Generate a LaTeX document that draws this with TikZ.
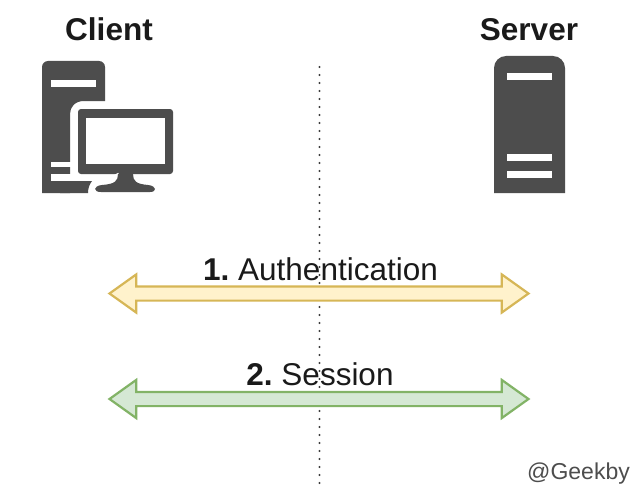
\documentclass[tikz,border=0pt]{standalone}
\usepackage{fontspec}
\setmainfont{Liberation Sans}
\usetikzlibrary{shapes.arrows}
\definecolor{icon}{HTML}{4D4D4D}
\definecolor{ink}{HTML}{1A1A1A}
\definecolor{yfill}{HTML}{FFF2CC}
\definecolor{yline}{HTML}{D6B656}
\definecolor{gfill}{HTML}{D5E8D4}
\definecolor{gline}{HTML}{82B366}
\tikzset{
  lbl/.style={anchor=base,inner sep=0pt,text=ink,font=\fontsize{31.5}{36}\selectfont},
  dblarrow/.style={double arrow,draw=#1,line width=2.2pt,inner sep=0pt,outer sep=0pt,
    minimum height=419pt,minimum width=36pt,text height=12pt,text depth=0pt,text width=0pt,
    double arrow head extend=12pt,double arrow tip angle=71},
  iconfill/.style={fill=icon,draw=none},
  slit/.style={fill=white,draw=none},
  sep/.style={line width=2.2pt,draw=ink!85,line cap=round,dash pattern=on 0pt off 8pt}
}
\begin{document}
\frenchspacing
\begin{tikzpicture}[x=1pt,y=-1pt]
\useasboundingbox[fill=white] (0,0) rectangle (640,495);
% separator
\coordinate (septop) at (319.5,67);
\coordinate (sepbot) at (319.5,490);
\draw[sep] (septop) -- (sepbot);
% client tower
\fill[icon] (42,67) arc[start angle=180,end angle=270,radius=6] -- (99,61)
  arc[start angle=-90,end angle=0,radius=6] -- (105,101) -- (84,101)
  .. controls (75,101) and (70,107) .. (70,114) -- (70,193) -- (42,193) -- cycle;
\fill[icon] (60,181) -- (92,181) .. controls (89,185) and (88,189) .. (88,193) -- (60,193) -- cycle;
\fill[slit] (51,80) rectangle (96,87);
\fill[slit] (51,161.5) rectangle (71,167);
\fill[slit] (51,174) rectangle (71,181);
% client monitor
\fill[icon,draw=white,line width=8pt,rounded corners=2pt] (78,109) rectangle (173,174);
\fill[icon,rounded corners=3pt] (78,109) rectangle (173,174);
\fill[slit] (86,118) rectangle (165,164);
\draw[white,line width=5pt,line join=round] (116,174) .. controls (120,180) and (116,184) .. (100,185) .. controls (92,186) and (92,192) .. (100,193) -- (125,193);
\fill[icon] (118,174) -- (133,174) .. controls (133,181) and (136,184) .. (148,185)
  .. controls (157,186) and (157,192) .. (150,192) -- (101,192)
  .. controls (93,192) and (93,186) .. (102,185)
  .. controls (115,184) and (118,181) .. (118,174) -- cycle;
% server
\fill[icon] (494,68) arc[start angle=180,end angle=270,radius=12] -- (553,56)
  arc[start angle=-90,end angle=0,radius=12] -- (565,193) -- (494,193) -- cycle;
\fill[slit] (507,73) rectangle (552,80);
\fill[slit] (507,154) rectangle (552,160.5);
\fill[slit] (507,171) rectangle (552,178);
% arrows
\node[dblarrow=yline,fill=yfill] (auth) at (319,293.5) {};
\node[dblarrow=gline,fill=gfill] (sess) at (319,399) {};
% labels
\node[lbl] (client) at (109,41) {\textbf{Client}};
\node[lbl] (server) at (529,41) {\textbf{Server}};
\node[lbl] (authlabel) at (320.5,280) {\textbf{1.} Authentication};
\node[lbl] (sesslabel) at (320,385) {\textbf{2.} Session};
\node[anchor=base,inner sep=0pt,text=icon,font=\fontsize{23}{28}\selectfont] (credit) at (578.5,479) {@Geekby};
\end{tikzpicture}
\end{document}
